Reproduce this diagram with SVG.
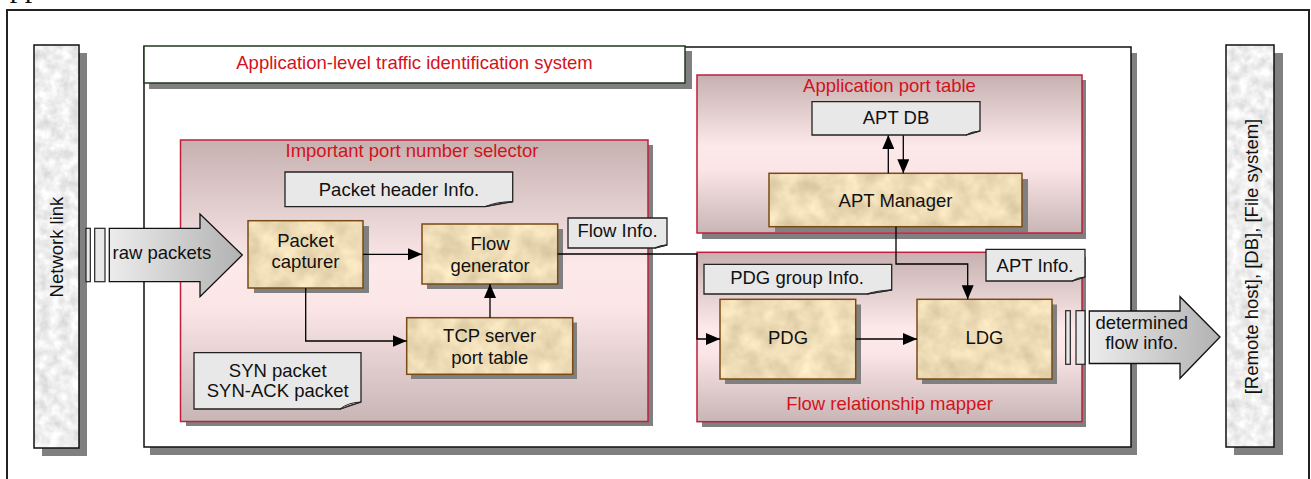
<svg xmlns="http://www.w3.org/2000/svg" width="1311" height="479" viewBox="0 0 1311 479">
  <style>
    text { font-family: "Liberation Sans", Arial, sans-serif; font-size: 18.5px; fill: #111; }
    .red { fill: #d4121c; }
    .mid { text-anchor: middle; }
    .shadow { fill: #808080; }
    .frame { fill: none; stroke: #222; stroke-width: 2; }
    .sys { fill: #fff; stroke: #111; stroke-width: 1.5; }
    .titlebox { fill: #fff; stroke: #1f3a1f; stroke-width: 1.5; }
    .container { fill: url(#pinkGrad); stroke: #c01e3c; stroke-width: 1.5; }
    .outline { fill: none; stroke: #7a4a14; stroke-width: 1.5; }
    .barline { fill: none; stroke: #111; stroke-width: 1.5; }
    .note { fill: #e8e8e8; stroke: #222; stroke-width: 1.3; }
    .fold { fill: #f8f8f8; stroke: #222; stroke-width: 1; }
    .tick { fill: #e8e8e8; stroke: #222; stroke-width: 1.2; }
    .bigarrow { fill: url(#arrowGrad); stroke: #111; stroke-width: 1.3; }
    .conn { fill: none; stroke: #000; stroke-width: 1.3; }
  </style>
  <defs>
    <linearGradient id="pinkGrad" x1="0" y1="0" x2="0" y2="1">
      <stop offset="0" stop-color="#c6b0b0"/>
      <stop offset="0.45" stop-color="#fde9ea"/>
      <stop offset="0.6" stop-color="#fbe5e7"/>
      <stop offset="1" stop-color="#c8b5b5"/>
    </linearGradient>
    <linearGradient id="arrowGrad" x1="0" y1="0" x2="1" y2="0">
      <stop offset="0" stop-color="#ececec"/>
      <stop offset="1" stop-color="#b2b2b2"/>
    </linearGradient>
    <!-- parchment texture for process boxes -->
    <filter id="parchment" x="0" y="0" width="1" height="1" color-interpolation-filters="sRGB">
      <feTurbulence type="fractalNoise" baseFrequency="0.05" numOctaves="3" seed="7" result="n"/>
      <feColorMatrix in="n" type="matrix" values="0.22 0 0 0 0.82  0.22 0 0 0 0.75  0.22 0 0 0 0.6  0 0 0 0 1" result="c"/>
      <feComposite in="c" in2="SourceGraphic" operator="in"/>
    </filter>
    <!-- marble texture for the end bars -->
    <filter id="marble" x="0" y="0" width="1" height="1" color-interpolation-filters="sRGB">
      <feTurbulence type="fractalNoise" baseFrequency="0.1" numOctaves="3" seed="3" result="n"/>
      <feColorMatrix in="n" type="matrix" values="0.25 0 0 0 0.81  0.25 0 0 0 0.81  0.25 0 0 0 0.81  0 0 0 0 1" result="c"/>
      <feComposite in="c" in2="SourceGraphic" operator="in"/>
    </filter>
    <marker id="ah" viewBox="0 0 14 12" refX="14" refY="6" markerWidth="14" markerHeight="12" markerUnits="userSpaceOnUse" orient="auto">
      <path d="M0,0 L14,6 L0,12 Z" fill="#000"/>
    </marker>
  </defs>

  <rect width="1311" height="479" fill="#fff"/>

  <!-- page caption running off the top edge -->
  <text x="-12" y="-3.2" style="font-family: 'Liberation Serif', 'Times New Roman', serif; font-size: 30px;">Application</text>

  <!-- outer frame -->
  <path class="frame" d="M7,479 V10 H1309 V479"/>

  <!-- network link bar -->
  <g id="network-link">
    <rect class="shadow" x="42" y="53" width="45" height="403"/>
    <rect x="34" y="45" width="45" height="403" fill="#eee" filter="url(#marble)"/>
    <rect class="barline" x="34" y="45" width="45" height="403"/>
    <text class="mid" transform="translate(62.5,247) rotate(-90)">Network link</text>
  </g>

  <!-- output storage bar -->
  <g id="storage">
    <rect class="shadow" x="1234" y="53" width="49" height="402"/>
    <rect x="1226" y="45" width="48" height="402" fill="#eee" filter="url(#marble)"/>
    <rect class="barline" x="1226" y="45" width="48" height="402"/>
    <text class="mid" transform="translate(1257.7,256.5) rotate(-90)">[Remote host], [DB], [File system]</text>
  </g>

  <!-- system boundary with its title -->
  <g id="traffic-id-system">
    <rect class="shadow" x="150" y="53" width="987" height="402"/>
    <rect class="sys" x="144" y="47" width="987" height="400"/>
    <rect class="shadow" x="149" y="51" width="543" height="38"/>
    <rect class="titlebox" x="144" y="46" width="541" height="37"/>
    <text class="red mid" x="414.5" y="68.5">Application-level traffic identification system</text>
  </g>

  <!-- important port number selector -->
  <g id="port-selector">
    <rect class="shadow" x="186" y="145" width="467" height="281"/>
    <rect class="container" x="180.5" y="140" width="467.5" height="281.5"/>
    <text class="red mid" x="412" y="156.7">Important port number selector</text>
  </g>

  <!-- application port table -->
  <g id="app-port-table">
    <rect class="shadow" x="702" y="80" width="384" height="159"/>
    <rect class="container" x="697" y="75" width="385" height="158"/>
    <text class="red mid" x="889.5" y="91.7">Application port table</text>
  </g>

  <!-- flow relationship mapper -->
  <g id="flow-mapper">
    <rect class="shadow" x="702" y="257" width="384" height="170"/>
    <rect class="container" x="697" y="252.3" width="385" height="169.4"/>
    <text class="red mid" x="889.5" y="410">Flow relationship mapper</text>
  </g>

  <!-- process boxes -->
  <g id="packet-capturer">
    <rect class="shadow" x="254" y="226" width="115" height="67"/>
    <rect x="248" y="220.7" width="115" height="67.3" fill="#ecd8b0" filter="url(#parchment)"/>
    <rect class="outline" x="248" y="220.7" width="115" height="67.3"/>
    <text class="mid" x="305.5" y="247">Packet</text>
    <text class="mid" x="305.5" y="268">capturer</text>
  </g>

  <g id="flow-generator">
    <rect class="shadow" x="427" y="229" width="136" height="60"/>
    <rect x="422" y="224" width="135.7" height="60" fill="#ecd8b0" filter="url(#parchment)"/>
    <rect class="outline" x="422" y="224" width="135.7" height="60"/>
    <text class="mid" x="490" y="250">Flow</text>
    <text class="mid" x="490" y="271.7">generator</text>
  </g>

  <g id="tcp-server-port-table">
    <rect class="shadow" x="411" y="322.5" width="166" height="56.5"/>
    <rect x="406.7" y="317.7" width="166" height="56.6" fill="#ecd8b0" filter="url(#parchment)"/>
    <rect class="outline" x="406.7" y="317.7" width="166" height="56.6"/>
    <text class="mid" x="489.7" y="342">TCP server</text>
    <text class="mid" x="489.7" y="364">port table</text>
  </g>

  <g id="apt-manager">
    <rect class="shadow" x="775" y="179" width="253" height="53"/>
    <rect x="769" y="173.3" width="253" height="53.4" fill="#ecd8b0" filter="url(#parchment)"/>
    <rect class="outline" x="769" y="173.3" width="253" height="53.4"/>
    <text class="mid" x="895.5" y="206.7">APT Manager</text>
  </g>

  <g id="pdg">
    <rect class="shadow" x="725" y="304.5" width="136" height="79.5"/>
    <rect x="720" y="299.3" width="135.7" height="79.7" fill="#ecd8b0" filter="url(#parchment)"/>
    <rect class="outline" x="720" y="299.3" width="135.7" height="79.7"/>
    <text class="mid" x="788" y="344">PDG</text>
  </g>

  <g id="ldg">
    <rect class="shadow" x="922" y="304.5" width="135" height="79.5"/>
    <rect x="917" y="299.3" width="135" height="79.7" fill="#ecd8b0" filter="url(#parchment)"/>
    <rect class="outline" x="917" y="299.3" width="135" height="79.7"/>
    <text class="mid" x="984.5" y="344">LDG</text>
  </g>

  <!-- connectors -->
  <g id="connectors">
    <path class="conn" d="M363,254.3 H422" marker-end="url(#ah)"/>
    <path class="conn" d="M305.7,288 V341 H406.7" marker-end="url(#ah)"/>
    <path class="conn" d="M490,317.7 V284" marker-end="url(#ah)"/>
    <path class="conn" d="M557.7,254 H697 V339 H720" marker-end="url(#ah)"/>
    <path class="conn" d="M855.7,339 H917" marker-end="url(#ah)"/>
    <path class="conn" d="M888.3,173.3 V135" marker-end="url(#ah)"/>
    <path class="conn" d="M903.3,135 V173.3" marker-end="url(#ah)"/>
    <path class="conn" d="M896,226.7 V264 H967.7 V299.3" marker-end="url(#ah)"/>
  </g>

  <!-- annotation notes with folded corners -->
  <g id="packet-header-note">
    <path class="note" d="M285,172 H512.7 V201.7 L485,206.7 H285 Z"/>
    <path class="fold" d="M485,206.7 Q497,201.5 512.7,201.7 Q498,203.5 485,206.7 Z"/>
    <text class="mid" x="399" y="195.7">Packet header Info.</text>
  </g>

  <g id="flow-info-note">
    <path class="note" d="M568,218 H667 V245 L655,248 H568 Z"/>
    <path class="fold" d="M655,248 Q660,245 667,245 Q661,246.5 655,248 Z"/>
    <text class="mid" x="617.5" y="237.3">Flow Info.</text>
  </g>

  <g id="syn-note">
    <path class="note" d="M194,352.7 H361 V402 L340,409 H194 Z"/>
    <path class="fold" d="M340,409 Q348,402.5 361,402 Q350,405 340,409 Z"/>
    <text class="mid" x="277.7" y="376.7">SYN packet</text>
    <text class="mid" x="277.7" y="396.7">SYN-ACK packet</text>
  </g>

  <g id="apt-db">
    <path class="note" d="M812,101.7 H980 V131 L966,135 H812 Z"/>
    <path class="fold" d="M966,135 Q971,131.5 980,131 Q972,132.8 966,135 Z"/>
    <text class="mid" x="896" y="124.3">APT DB</text>
  </g>

  <g id="pdg-group-note">
    <path class="note" d="M704,264.3 H891.7 V290 L867,294 H704 Z"/>
    <path class="fold" d="M867,294 Q877,290.5 891.7,290 Q879,292 867,294 Z"/>
    <text class="mid" x="797" y="284.3">PDG group Info.</text>
  </g>

  <g id="apt-info-note">
    <path class="note" d="M986,249.3 H1085 V277 L1072,281 H986 Z"/>
    <path class="fold" d="M1072,281 Q1077,277.5 1085,277 Q1078,279 1072,281 Z"/>
    <text class="mid" x="1035" y="272.3">APT Info.</text>
  </g>

  <!-- incoming traffic -->
  <g id="raw-packets">
    <rect class="tick" x="86" y="228.3" width="4.3" height="53.4"/>
    <rect class="tick" x="94.7" y="228.3" width="10.3" height="53.4"/>
    <path class="bigarrow" d="M109.3,228.3 H200 V214 L242.3,255 L200,296.7 V281.7 H109.3 Z"/>
    <text x="112.5" y="259.3">raw packets</text>
  </g>

  <!-- outgoing results -->
  <g id="determined-flow-info">
    <rect class="tick" x="1065.7" y="310.7" width="4.6" height="53.6"/>
    <rect class="tick" x="1076" y="310.7" width="9" height="53.6"/>
    <path class="bigarrow" d="M1089.3,311 H1180 V296.7 L1220,337 L1180,378.3 V363.5 H1089.3 Z"/>
    <text class="mid" x="1141.7" y="329.3">determined</text>
    <text class="mid" x="1141.7" y="349">flow info.</text>
  </g>
</svg>
